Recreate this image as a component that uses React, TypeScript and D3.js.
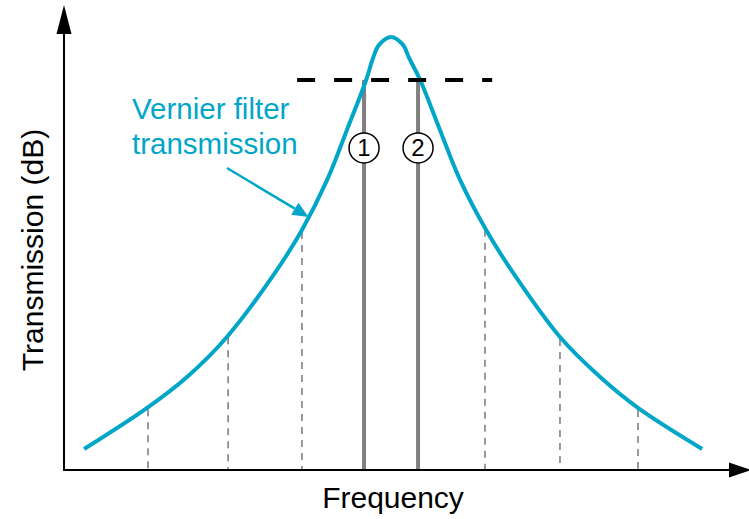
import React from "react";
import * as d3 from "d3";

// frequency offset from the filter peak (arbitrary units), transmission in dB
const freq = [-10.23, -8.13, -6.8, -5.47, -3.87, -2.97, -2.13, -1.47, -0.83, -0.6, -0.4, 0,
  0.4, 0.6, 0.97, 1.63, 2.3, 3.17, 4.07, 5.63, 6.97, 8.23, 10.37];
const transmission = [-27.47, -24.73, -22.67, -20.0, -15.73, -12.87, -9.53, -6.2, -2.87, -1.4, -0.53, 0,
  -0.53, -1.4, -2.87, -6.2, -9.53, -12.87, -15.73, -20, -22.67, -24.73, -27.47];

// sampling positions (dashed) and the two vernier channels (solid)
const sampleFreqs = [-8.1, -5.43, -2.97, 3.13, 5.63, 8.23];
const channelFreqs = [-0.9, 0.9];
const channelLabels = ["1", "2"];
const thresholdDb = -2.87;
const thresholdSpan = [-3.13, 3.37];
const labelDb = -7.4;
const arrowFreq = -2.75;

const W = 749;
const H = 519;
const teal = "#00a6c8";
const gray = "#808080";
const font = "'Liberation Sans', Arial, sans-serif";

const x = d3.scaleLinear().domain([-10.9, 11.93]).range([64, 749]);
const y = d3.scaleLinear().domain([-28.87, 2.13]).range([470, 5]);

const pts: [number, number][] = freq.map((f, i) => [f, transmission[i]]);

function dbAt(f: number) {
  const i = d3.bisector((d: [number, number]) => d[0]).left(pts, f);
  if (i <= 0) return pts[0][1];
  if (i >= pts.length) return pts[pts.length - 1][1];
  const a = pts[i - 1], b = pts[i];
  return a[1] + ((f - a[0]) / (b[0] - a[0])) * (b[1] - a[1]);
}

const line = d3.line<[number, number]>()
  .x(d => x(d[0]))
  .y(d => y(d[1]))
  .curve(d3.curveCatmullRom.alpha(0.5));

export default function App() {
  const x0 = x.range()[0];
  const yb = y.range()[0];
  const tipX = x(arrowFreq);
  const tipY = y(dbAt(arrowFreq));
  const startX = 227, startY = 168;
  const ang = Math.atan2(tipY - startY, tipX - startX);
  const hl = 16, hw = 7;
  const bx = tipX - hl * Math.cos(ang), by = tipY - hl * Math.sin(ang);
  const px = -Math.sin(ang) * hw, py = Math.cos(ang) * hw;

  return (
    <svg width={W} height={H} style={{ position: "absolute", left: 0, top: 0 }} fontFamily={font}>
      <rect width={W} height={H} fill="#fff" />

      {/* dashed sample lines */}
      {sampleFreqs.map((f, i) => (
        <line key={i} x1={x(f)} x2={x(f)} y1={y(dbAt(f)) + 2} y2={yb}
          stroke={gray} strokeWidth={1.6} strokeDasharray="7 6" />
      ))}

      {/* vernier channels */}
      {channelFreqs.map((f, i) => (
        <line key={i} x1={x(f)} x2={x(f)} y1={y(thresholdDb)} y2={yb}
          stroke={gray} strokeWidth={4} />
      ))}

      {/* axes */}
      <line x1={x0} x2={x0} y1={yb + 1} y2={30} stroke="#000" strokeWidth={2} />
      <path d={`M${x0},5 L${x0 - 7.5},34 L${x0 + 7.5},34 Z`} fill="#000" />
      <line x1={x0 - 1} x2={732} y1={yb} y2={yb} stroke="#000" strokeWidth={2} />
      <path d={`M751,${yb} L729,${yb - 7.5} L729,${yb + 7.5} Z`} fill="#000" />

      {/* filter curve */}
      <path d={line(pts) ?? ""} fill="none" stroke={teal} strokeWidth={4} />

      {/* threshold */}
      <line x1={x(thresholdSpan[0])} x2={x(thresholdSpan[1])} y1={y(thresholdDb)} y2={y(thresholdDb)}
        stroke="#000" strokeWidth={4} strokeDasharray="18 19" />

      {/* channel labels */}
      {channelFreqs.map((f, i) => (
        <g key={i}>
          <circle cx={x(f)} cy={y(labelDb)} r={15} fill="#fff" stroke="#000" strokeWidth={1.5} />
          <text x={x(f)} y={y(labelDb) + 8.5} textAnchor="middle" fontSize={24} fill="#000">
            {channelLabels[i]}
          </text>
        </g>
      ))}

      {/* annotation */}
      <text x={132} y={119} fontSize={29.5} fill={teal}>Vernier filter</text>
      <text x={132} y={154} fontSize={29.5} fill={teal}>transmission</text>
      <line x1={startX} y1={startY} x2={bx} y2={by} stroke={teal} strokeWidth={2.5} />
      <path d={`M${tipX},${tipY} L${bx + px},${by + py} L${bx - px},${by - py} Z`} fill={teal} />

      {/* axis titles */}
      <text x={393} y={508} textAnchor="middle" fontSize={30} fill="#000">Frequency</text>
      <text transform="translate(43,250) rotate(-90)" textAnchor="middle" fontSize={30} fill="#000">
        Transmission (dB)
      </text>
    </svg>
  );
}
